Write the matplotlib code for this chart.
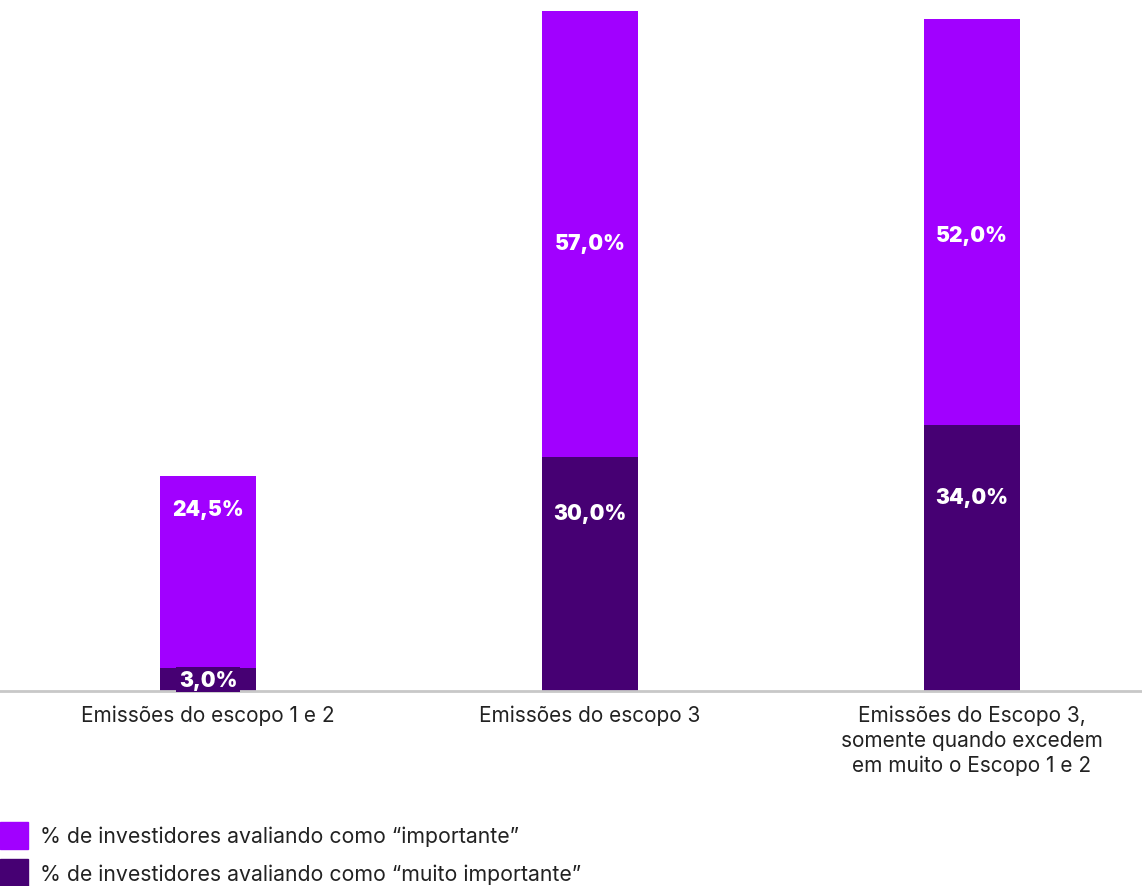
import matplotlib.pyplot as plt
from matplotlib.patches import Patch

plt.rcParams['font.family'] = ['Inter', 'DejaVu Sans']

# Dados
categorias = ['Emissões do escopo 1 e 2',
              'Emissões do escopo 3',
              'Emissões do Escopo 3,\nsomente quando excedem\nem muito o Escopo 1 e 2']
muito_importante = [3.0, 30.0, 34.0]
importante = [24.5, 57.0, 52.0]

serie_importante = '% de investidores avaliando como “importante”'
serie_muito = '% de investidores avaliando como “muito importante”'

cor_clara = '#A100FF'
cor_escura = '#460073'

# posição vertical dos rótulos dentro de cada segmento (fração da altura)
frac_baixo = [0.47, 0.76, 0.73]
frac_cima = [0.83, 0.48, 0.47]

fig = plt.figure(figsize=(11.42, 8.87), dpi=100)
ax = fig.add_axes([0, 195 / 887, 1, 692 / 887])

x = range(len(categorias))
b1 = ax.bar(x, muito_importante, width=0.25, color=cor_escura)
b2 = ax.bar(x, importante, width=0.25, bottom=muito_importante, color=cor_clara)

for i in x:
    yb = muito_importante[i] * frac_baixo[i]
    ax.text(i, yb, f'{muito_importante[i]:.1f}%'.replace('.', ','), ha='center', va='center',
            color='white', fontsize=15, fontweight='black',
            bbox=dict(boxstyle='square,pad=0.12', fc=cor_escura, ec='none'))
    yt = muito_importante[i] + importante[i] * frac_cima[i]
    ax.text(i, yt, f'{importante[i]:.1f}%'.replace('.', ','), ha='center', va='center',
            color='white', fontsize=15, fontweight='black')

ax.set_xlim(-0.545, 2.445)
ax.set_ylim(0, 88.6)
ax.set_xticks(list(x))
ax.set_xticklabels(categorias, fontsize=15, color='#222222', linespacing=1.27)
ax.tick_params(axis='x', length=0, pad=10)
ax.set_yticks([])
for s in ['top', 'right', 'left']:
    ax.spines[s].set_visible(False)
ax.spines['bottom'].set_color('#c8c8c8')
ax.spines['bottom'].set_linewidth(2)

# Legenda
handles = [Patch(color=cor_clara, label=serie_importante),
           Patch(color=cor_escura, label=serie_muito)]
fig.legend(handles=handles, loc='upper left', bbox_to_anchor=(0, 1 - 823 / 887),
           frameon=False, fontsize=15.3, handlelength=1.3, handleheight=1.55,
           handletextpad=0.6, labelspacing=0.5, borderaxespad=0, borderpad=0,
           labelcolor='#222222')

fig.savefig('out.png', dpi=100)
